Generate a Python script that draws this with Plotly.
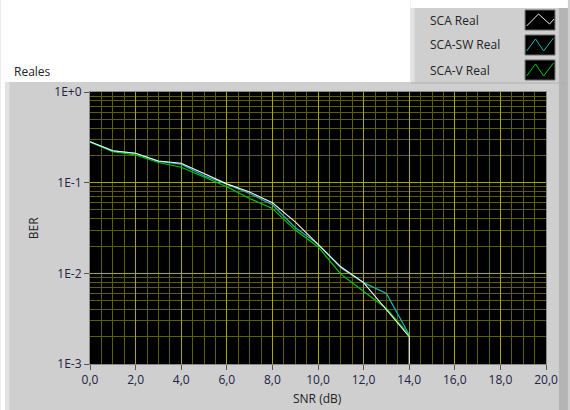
import plotly.graph_objects as go

# ---- data ----
snr = list(range(15))
sca_real = [0.283, 0.225, 0.211, 0.173, 0.164, 0.127, 0.097, 0.079, 0.060, 0.037,
            0.021, 0.0118, 0.0079, 0.0040, 0.0020]
sca_sw_real = [0.283, 0.224, 0.210, 0.172, 0.160, 0.119, 0.096, 0.076, 0.057, 0.032,
               0.021, 0.0115, 0.0079, 0.0060, 0.0021]
sca_v_real = [0.281, 0.220, 0.202, 0.167, 0.148, 0.115, 0.090, 0.067, 0.052, 0.030,
              0.0197, 0.0098, 0.0063, 0.0041, 0.0021]
# SCA Real drops to zero BER after 14 dB (drawn as a fall below the axis floor)
sca_tail_snr = [14]
sca_tail_ber = [1e-9]

series_names = ["SCA Real", "SCA-SW Real", "SCA-V Real"]
series_colors = ["#f2f2f2", "#19b9b9", "#00cc00"]

y_tickvals = [1, 0.1, 0.01, 0.001]
y_ticktext = ["1E+0", "1E-1", "1E-2", "1E-3"]

# ---- geometry helpers (pixel -> paper) ----
W, H = 570, 410
L, R, T, B = 90, 548, 92, 364


def px(x):
    return (x - L) / (R - L)


def py(y):
    return (B - y) / (B - T)


fig = go.Figure()
fig.add_trace(go.Scatter(x=snr, y=sca_v_real, mode="lines", name=series_names[2],
                         line=dict(color=series_colors[2], width=1.2)))
fig.add_trace(go.Scatter(x=snr, y=sca_sw_real, mode="lines", name=series_names[1],
                         line=dict(color=series_colors[1], width=1.2)))
fig.add_trace(go.Scatter(x=snr + sca_tail_snr, y=sca_real + sca_tail_ber, mode="lines",
                         name=series_names[0],
                         line=dict(color=series_colors[0], width=1.1)))

panel = "#cfcfcf"
shapes = []
# white page areas outside the gray panel
shapes.append(dict(type="rect", xref="paper", yref="paper", x0=px(0), x1=px(412),
                   y0=py(0), y1=py(82), fillcolor="white", line_width=0, layer="below"))
shapes.append(dict(type="rect", xref="paper", yref="paper", x0=px(412), x1=px(570),
                   y0=py(0), y1=py(8), fillcolor="white", line_width=0, layer="below"))
shapes.append(dict(type="rect", xref="paper", yref="paper", x0=px(0), x1=px(5),
                   y0=py(82), y1=py(410), fillcolor="white", line_width=0, layer="below"))
# light left edge of the panels
shapes.append(dict(type="rect", xref="paper", yref="paper", x0=px(5), x1=px(9),
                   y0=py(82), y1=py(410), fillcolor="#e2e2e2", line_width=0, layer="below"))
shapes.append(dict(type="rect", xref="paper", yref="paper", x0=px(412), x1=px(416),
                   y0=py(8), y1=py(82), fillcolor="#e2e2e2", line_width=0, layer="below"))
# darker right strip
shapes.append(dict(type="rect", xref="paper", yref="paper", x0=px(561), x1=px(570),
                   y0=py(8), y1=py(410), fillcolor="#b4b4b4", line_width=0, layer="below"))
shapes.append(dict(type="line", xref="paper", yref="paper", x0=px(412), x1=px(570),
                   y0=py(83), y1=py(83), line=dict(color="#b0b0b0", width=1), layer="below"))

annotations = []
rows_y = [20, 45, 70]
glyphs = [
    [(0.05, 0.2), (0.45, 0.8), (0.82, 0.3), (0.97, 0.55)],
    [(0.05, 0.2), (0.35, 0.8), (0.62, 0.2), (0.95, 0.85)],
    [(0.05, 0.2), (0.35, 0.8), (0.62, 0.2), (0.95, 0.85)],
]
for name, col, yc, g in zip(series_names, series_colors, rows_y, glyphs):
    annotations.append(dict(text=name, xref="paper", yref="paper", x=px(429), y=py(yc),
                            xanchor="left", yanchor="middle", showarrow=False,
                            font=dict(size=12, color="#222222", family="Open Sans")))
    bx0, bx1, by0, by1 = 527, 557, yc - 10, yc + 10
    shapes.append(dict(type="rect", xref="paper", yref="paper", x0=px(bx0), x1=px(bx1),
                       y0=py(by1), y1=py(by0), fillcolor="black",
                       line=dict(color="#6a6a6a", width=1)))
    path = ""
    for i, (gx, gy) in enumerate(g):
        X = px(bx0 + gx * (bx1 - bx0))
        Y = py(by1 - gy * (by1 - by0))
        path += ("M" if i == 0 else " L") + f"{X:.5f},{Y:.5f}"
    shapes.append(dict(type="path", xref="paper", yref="paper", path=path,
                       line=dict(color=col, width=1)))

annotations.append(dict(text="Reales", xref="paper", yref="paper", x=px(12), y=py(71),
                        xanchor="left", yanchor="middle", showarrow=False,
                        font=dict(size=12, color="#222222", family="Open Sans")))
annotations.append(dict(text="BER", xref="paper", yref="paper", x=px(33), y=py(228),
                        xanchor="center", yanchor="middle", showarrow=False, textangle=-90,
                        font=dict(size=12, color="#222222", family="Open Sans")))
annotations.append(dict(text="SNR (dB)", xref="paper", yref="paper", x=px(318), y=py(398),
                        xanchor="center", yanchor="middle", showarrow=False,
                        font=dict(size=12, color="#222222", family="Open Sans")))

major = "#a8a800"
minor = "#5e5e00"

fig.update_layout(
    width=W, height=H,
    margin=dict(l=L, r=W - R, t=T, b=H - B, pad=0),
    paper_bgcolor=panel, plot_bgcolor="black",
    showlegend=False,
    separators=",.",
    shapes=shapes, annotations=annotations,
    font=dict(family="Open Sans", size=12, color="#222222"),
    xaxis=dict(range=[0, 20], dtick=2, tick0=0, tickformat=".1f",
               showgrid=True, gridcolor=major, gridwidth=1, zeroline=False,
               ticks="outside", ticklen=5, tickcolor="#555555",
               showline=True, linecolor="#8a8a8a", mirror=True,
               minor=dict(dtick=0.5, tick0=0, showgrid=True, gridcolor=minor, gridwidth=1),
               tickfont=dict(size=12, color="#222244")),
    yaxis=dict(type="log", range=[-3, 0], tickvals=y_tickvals, ticktext=y_ticktext,
               showgrid=True, gridcolor=major, gridwidth=1, zeroline=False,
               ticks="outside", ticklen=5, tickcolor="#555555",
               showline=True, linecolor="#8a8a8a", mirror=True,
               minor=dict(dtick="D1", showgrid=True, gridcolor=minor, gridwidth=1),
               tickfont=dict(size=12, color="#222244")),
)

fig.write_html("out.html", config={"displayModeBar": False},
               post_script="document.body.style.margin='0';")
